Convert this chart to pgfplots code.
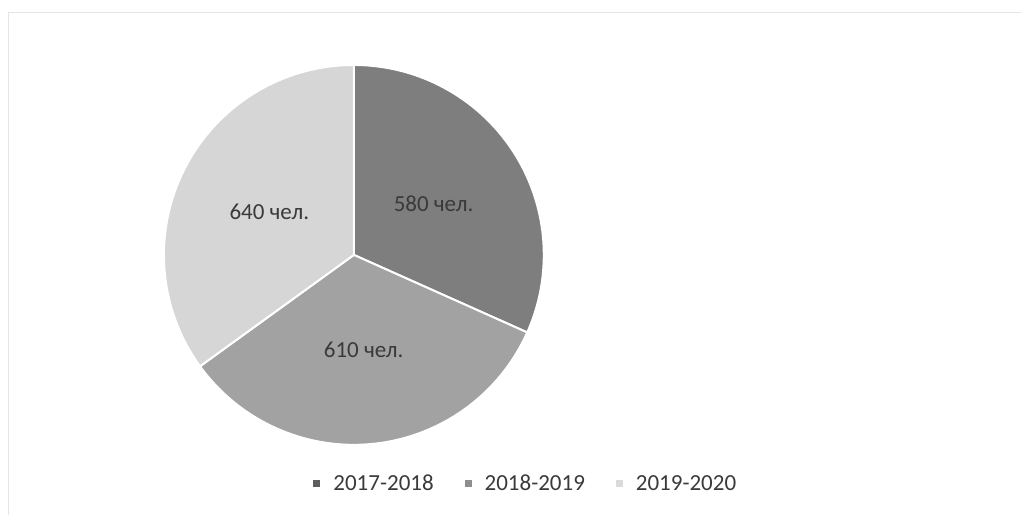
\documentclass[border=0pt]{standalone}
\usepackage{fontspec}
\setmainfont{Carlito}
\usepackage{pgfplots}
\usepackage{pgfplotstable}
\pgfplotsset{compat=1.18}
\definecolor{cA}{HTML}{7E7E7E}
\definecolor{cB}{HTML}{A2A2A2}
\definecolor{cC}{HTML}{D6D6D6}
\definecolor{lA}{HTML}{5E5E5E}
\definecolor{lB}{HTML}{8E8E8E}
\definecolor{lC}{HTML}{DADADA}
\definecolor{txt}{HTML}{3A3A3A}
\pgfplotstableread{
period value
2017-2018 580
2018-2019 610
2019-2020 640
}\piedata
\pgfplotstablegetelem{0}{value}\of\piedata \let\va\pgfplotsretval
\pgfplotstablegetelem{1}{value}\of\piedata \let\vb\pgfplotsretval
\pgfplotstablegetelem{2}{value}\of\piedata \let\vc\pgfplotsretval
\pgfmathsetmacro\tot{\va+\vb+\vc}
\pgfmathsetmacro\aA{90}
\pgfmathsetmacro\aB{90-360*(\va/\tot)}
\pgfmathsetmacro\aC{\aB-360*(\vb/\tot)}
\pgfmathsetmacro\aD{\aC-360*(\vc/\tot)}
\pgfmathsetmacro\mA{(\aA+\aB)/2}
\pgfmathsetmacro\mB{(\aB+\aC)/2}
\pgfmathsetmacro\mC{(\aC+\aD)/2}
\def\cx{354}
\def\cy{260}
\def\R{190}
\def\rl{95}
\begin{document}
\begin{tikzpicture}
\begin{axis}[
  scale only axis, width=1021bp, height=515bp,
  xmin=0, xmax=1021, ymin=0, ymax=515,
  hide axis, clip=false,
  font=\fontsize{23bp}{28bp}\selectfont,
  legend style={at={(axis cs:526,31)}, anchor=center, draw=none, fill=none,
    legend columns=3, text=txt, font=\fontsize{23bp}{28bp}\selectfont,
    /tikz/every even column/.append style={column sep=29bp}},
]
\path (axis cs:0,0) rectangle (axis cs:1021,515);
\draw[black!10, line width=0.8pt] (axis cs:8,0) -- (axis cs:8,503) -- (axis cs:1021,503);
\addplot[forget plot, fill=cA, draw=white, line width=2pt, domain=\aB:\aA, samples=90]
  ({\cx+\R*cos(x)},{\cy+\R*sin(x)}) -- (axis cs:\cx,\cy) -- cycle;
\addplot[forget plot, fill=cB, draw=white, line width=2pt, domain=\aC:\aB, samples=90]
  ({\cx+\R*cos(x)},{\cy+\R*sin(x)}) -- (axis cs:\cx,\cy) -- cycle;
\addplot[forget plot, fill=cC, draw=white, line width=2pt, domain=\aD:\aC, samples=90]
  ({\cx+\R*cos(x)},{\cy+\R*sin(x)}) -- (axis cs:\cx,\cy) -- cycle;
\node[text=txt] at (axis cs:{\cx+\rl*cos(\mA)},{\cy+\rl*sin(\mA)}) {\va~чел.};
\node[text=txt] at (axis cs:{\cx+\rl*cos(\mB)},{\cy+\rl*sin(\mB)}) {\vb~чел.};
\node[text=txt] at (axis cs:{\cx+\rl*cos(\mC)},{\cy+\rl*sin(\mC)}) {\vc~чел.};
\addlegendimage{legend image code/.code={\path[fill=lA, draw=none] (0bp,-3.5bp) rectangle (7bp,3.5bp); \path[draw=none, fill=none] (0bp,0bp) -- (18bp,0bp);}}
\addlegendentry{2017-2018}
\addlegendimage{legend image code/.code={\path[fill=lB, draw=none] (0bp,-3.5bp) rectangle (7bp,3.5bp); \path[draw=none, fill=none] (0bp,0bp) -- (18bp,0bp);}}
\addlegendentry{2018-2019}
\addlegendimage{legend image code/.code={\path[fill=lC, draw=none] (0bp,-3.5bp) rectangle (7bp,3.5bp); \path[draw=none, fill=none] (0bp,0bp) -- (18bp,0bp);}}
\addlegendentry{2019-2020}
\end{axis}
\end{tikzpicture}
\end{document}
